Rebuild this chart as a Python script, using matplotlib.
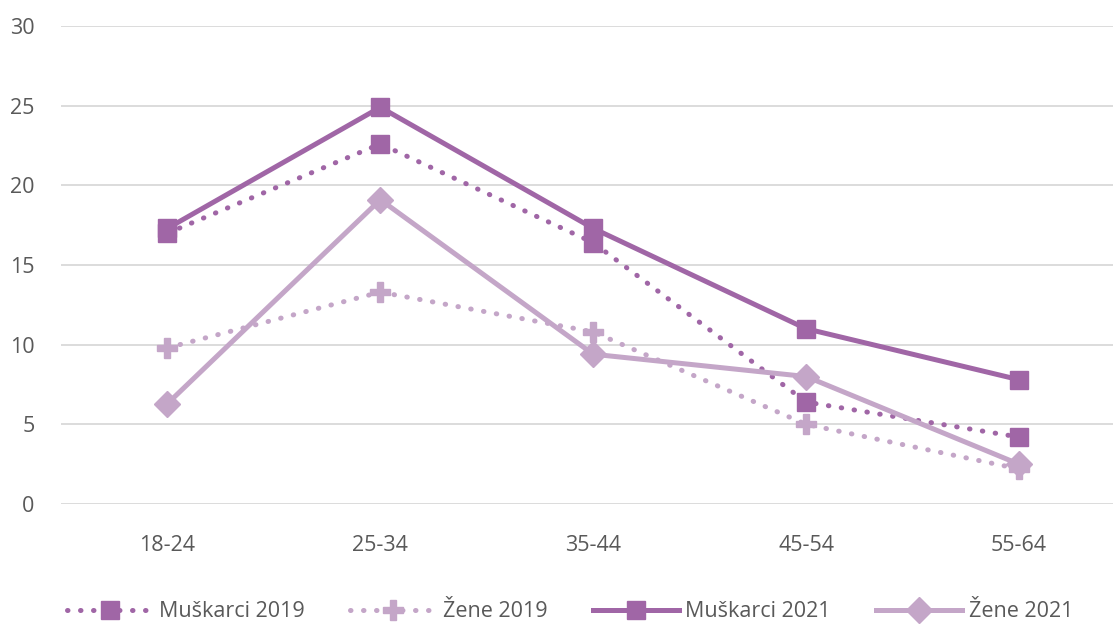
import matplotlib.pyplot as plt
import numpy as np

categories = ['18-24', '25-34', '35-44', '45-54', '55-64']
muskarci_2019 = [17.0, 22.6, 16.4, 6.4, 4.2]
zene_2019 = [9.8, 13.3, 10.8, 5.0, 2.2]
muskarci_2021 = [17.3, 24.9, 17.3, 11.0, 7.8]
zene_2021 = [6.3, 19.1, 9.4, 8.0, 2.5]

dark = '#A066A6'
light = '#C4A6C8'
gray = '#595959'

plt.rcParams['font.family'] = ['Open Sans', 'DejaVu Sans']

fig = plt.figure(figsize=(11.13, 6.26), dpi=100)
ax = fig.add_axes([61/1113, (626-504)/626, 1 - 61/1113, (504-26)/626])

x = np.arange(len(categories))

ax.plot(x, muskarci_2019, color=dark, lw=3.6, ls=(0, (0.1, 2.5)), dash_capstyle='round',
        marker='s', ms=13, label='Muškarci 2019')
ax.plot(x, zene_2019, color=light, lw=3.6, ls=(0, (0.1, 2.5)), dash_capstyle='round',
        marker='P', ms=14, label='Žene 2019')
ax.plot(x, muskarci_2021, color=dark, lw=3.6, marker='s', ms=13, label='Muškarci 2021')
ax.plot(x, zene_2021, color=light, lw=3.6, marker='D', ms=13, label='Žene 2021')

ax.set_xlim(-0.5, (1113-167)/213)
ax.set_ylim(0, 30)
ax.set_yticks([0, 5, 10, 15, 20, 25, 30])
ax.set_xticks(x)
ax.set_xticklabels(categories)
ax.grid(axis='y', color='#D9D9D9', lw=1.3)
ax.set_axisbelow(True)
for s in ax.spines.values():
    s.set_visible(False)
ax.tick_params(length=0, labelsize=15.5, colors=gray, pad=22)
ax.tick_params(axis='y', pad=19)

fig.legend(loc='lower center', bbox_to_anchor=(0.512, -0.025), ncol=4, frameon=False,
           fontsize=15.5, labelcolor=gray, handlelength=4, columnspacing=2.1, handletextpad=0.3)

fig.savefig('out.png', dpi=100)
